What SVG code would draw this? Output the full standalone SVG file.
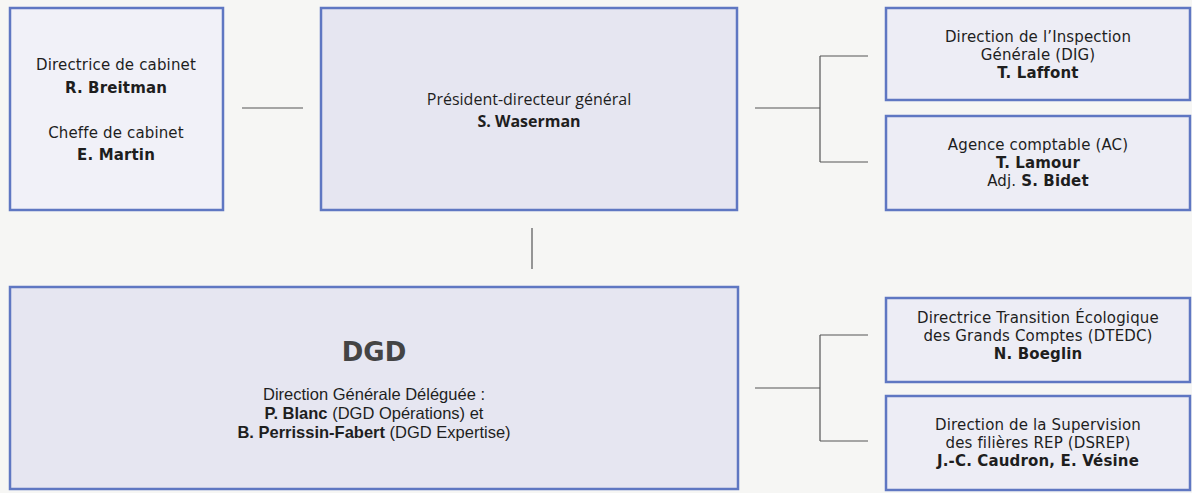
<svg xmlns="http://www.w3.org/2000/svg" width="1192" height="493" viewBox="0 0 1192 493">
<style>
.box{stroke:#5f77c2;stroke-width:2.5}
.m{font-family:"DejaVu Sans",sans-serif;font-size:15px;fill:#1e1e1e;text-anchor:middle;letter-spacing:0.15px}
.c{font-family:"Open Sans",sans-serif;font-size:16px;fill:#1e1e1e;text-anchor:middle}
.d{font-family:"Liberation Sans",Arial,sans-serif;font-size:16.5px;fill:#1e1e1e;text-anchor:middle}
.b{font-weight:bold}
.ln{stroke:#555;stroke-width:1.2;fill:none}
</style>
<rect width="1192" height="493" fill="#f6f6f4"/>
<g id="cabinet">
<rect class="box" x="10" y="8" width="213" height="202" fill="#f1f1f8"/>
<text class="m" x="116" y="70">Directrice de cabinet</text>
<text class="m b" x="116" y="93">R. Breitman</text>
<text class="m" x="116" y="138">Cheffe de cabinet</text>
<text class="m b" x="116" y="160">E. Martin</text>
</g>
<g id="pdg">
<rect class="box" x="321" y="8" width="416" height="202" fill="#e6e6f1"/>
<text class="c" x="529" y="105">Président-directeur général</text>
<text class="c b" x="529" y="127">S. Waserman</text>
</g>
<g id="dig">
<rect class="box" x="886" y="8" width="304" height="92" fill="#ededf5"/>
<text class="m" x="1038" y="42">Direction de l’Inspection</text>
<text class="m" x="1038" y="60">Générale (DIG)</text>
<text class="m b" x="1038" y="78">T. Laffont</text>
</g>
<g id="ac">
<rect class="box" x="886" y="116" width="304" height="94" fill="#ededf5"/>
<text class="m" x="1038" y="150">Agence comptable (AC)</text>
<text class="m b" x="1038" y="168">T. Lamour</text>
<text class="m" x="1038" y="186">Adj. <tspan class="b">S. Bidet</tspan></text>
</g>
<g id="dgd">
<rect class="box" x="10" y="287" width="728" height="202" fill="#e6e6f1"/>
<text x="374" y="361" font-family="DejaVu Sans,sans-serif" font-weight="bold" font-size="26" fill="#444" text-anchor="middle">DGD</text>
<text class="d" x="374" y="400">Direction Générale Déléguée :</text>
<text class="d" x="374" y="419"><tspan class="b">P. Blanc</tspan> (DGD Opérations) et</text>
<text class="d" x="374" y="438"><tspan class="b">B. Perrissin-Fabert</tspan> (DGD Expertise)</text>
</g>
<g id="dtedc">
<rect class="box" x="886" y="298" width="304" height="84" fill="#ededf5"/>
<text class="m" x="1038" y="323">Directrice Transition Écologique</text>
<text class="m" x="1038" y="341">des Grands Comptes (DTEDC)</text>
<text class="m b" x="1038" y="359">N. Boeglin</text>
</g>
<g id="dsrep">
<rect class="box" x="886" y="396" width="304" height="94" fill="#ededf5"/>
<text class="m" x="1038" y="430">Direction de la Supervision</text>
<text class="m" x="1038" y="448">des filières REP (DSREP)</text>
<text class="m b" x="1038" y="466">J.-C. Caudron, E. Vésine</text>
</g>
<g id="connectors">
<path class="ln" d="M242 108H303"/>
<path class="ln" d="M755 108H820M820 56V162M820 56H868M820 162H868"/>
<path class="ln" d="M532 228V269"/>
<path class="ln" d="M755 388H820M820 335V441M820 335H868M820 441H868"/>
</g>
</svg>
